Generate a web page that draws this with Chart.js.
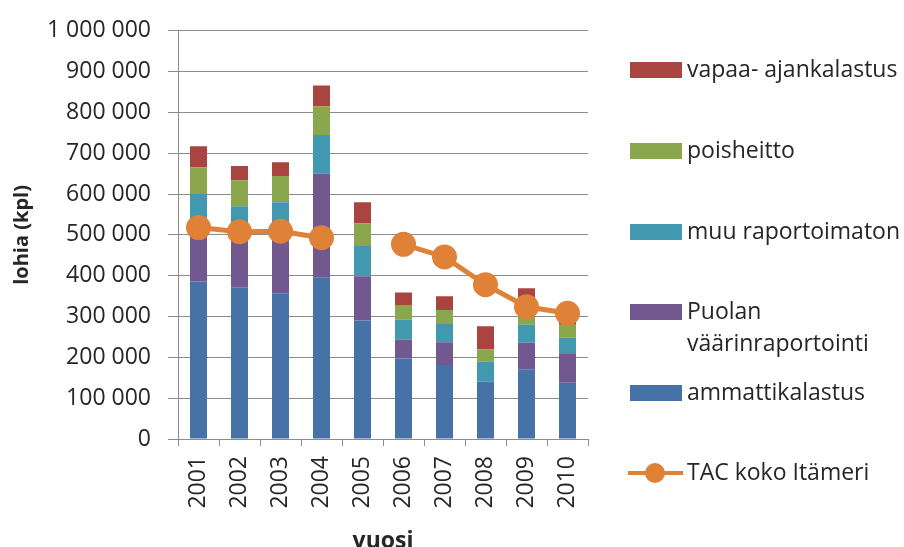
<!DOCTYPE html>
<html>
<head>
<meta charset="utf-8">
<script src="https://cdn.jsdelivr.net/npm/chart.js@4/dist/chart.umd.min.js"></script>
<style>
  body { margin: 0; background: #fff; }
  canvas { display: block; }
</style>
</head>
<body>
<canvas id="myChart" width="904" height="547"></canvas>
<script>
// vuodet ja saaliit (kpl)
var vuodet = ['2001', '2002', '2003', '2004', '2005', '2006', '2007', '2008', '2009', '2010'];
var ammattikalastus = [386000, 372000, 357000, 395000, 290000, 197000, 181000, 141000, 171000, 138000];
var puolanVaarinraportointi = [114000, 113000, 132000, 255000, 109000, 46000, 56000, 0, 65000, 70000];
var muuRaportoimaton = [100000, 85000, 91000, 95000, 74000, 49000, 45000, 48000, 44000, 40000];
var poisheitto = [66000, 64000, 64000, 70000, 55000, 36000, 34000, 31000, 55000, 32000];
var vapaaAjankalastus = [51000, 35000, 34000, 51000, 52000, 31000, 34000, 56000, 34000, 20000];
var tacKokoItameri = [518000, 508000, 509000, 493000, null, 477000, 446000, 378000, 324000, 308000];

var fontti = '"Open Sans", Lato, sans-serif';
var tekstinVari = '#262626';
var viivanVari = '#8c8c8c';

// oma selite oikealle puolelle
var selitePlugin = {
    id: 'omaSelite',
    afterDraw: function (chart) {
        var c = chart.ctx;
        var rivit = [
            { ds: 4, y: 70 },
            { ds: 3, y: 151 },
            { ds: 2, y: 232 },
            { ds: 1, y: 312 },
            { ds: 0, y: 393 },
            { ds: 5, y: 473 }
        ];
        c.save();
        c.font = '23px ' + fontti;
        c.textBaseline = 'middle';
        rivit.forEach(function (r) {
            var ds = chart.data.datasets[r.ds];
            if (ds.type === 'line') {
                c.strokeStyle = ds.borderColor;
                c.lineWidth = 4;
                c.beginPath();
                c.moveTo(628, r.y);
                c.lineTo(683, r.y);
                c.stroke();
                c.fillStyle = ds.pointBackgroundColor;
                c.beginPath();
                c.arc(655, r.y, 10, 0, Math.PI * 2);
                c.fill();
            } else {
                c.fillStyle = ds.backgroundColor;
                c.fillRect(630, r.y - 8, 52, 16);
            }
            c.fillStyle = tekstinVari;
            var teksti = ds.label;
            // pitkä nimi kahdelle riville
            if (c.measureText(teksti).width > 230) {
                var osat = teksti.split(' ');
                c.fillText(osat[0], 687, r.y);
                c.fillText(osat.slice(1).join(' '), 687, r.y + 32);
            } else {
                c.fillText(teksti, 687, r.y);
            }
        });
        c.restore();
    }
};

var ctx = document.getElementById('myChart').getContext('2d');

var myChart = new Chart(ctx, {
    type: 'bar',
    data: {
        labels: vuodet,
        datasets: [{
            label: 'ammattikalastus',
            data: ammattikalastus,
            backgroundColor: '#4672a8',
            order: 1
        }, {
            label: 'Puolan väärinraportointi',
            data: puolanVaarinraportointi,
            backgroundColor: '#71588f',
            order: 1
        }, {
            label: 'muu raportoimaton',
            data: muuRaportoimaton,
            backgroundColor: '#4198af',
            order: 1
        }, {
            label: 'poisheitto',
            data: poisheitto,
            backgroundColor: '#8aa74d',
            order: 1
        }, {
            label: 'vapaa- ajankalastus',
            data: vapaaAjankalastus,
            backgroundColor: '#a94441',
            order: 1
        }, {
            type: 'line',
            label: 'TAC koko Itämeri',
            data: tacKokoItameri,
            borderColor: '#df8136',
            backgroundColor: '#df8136',
            pointBackgroundColor: '#df8136',
            pointBorderColor: '#df8136',
            borderWidth: 5,
            pointRadius: 10,
            spanGaps: false,
            stack: 'tac',
            order: 0
        }]
    },
    options: {
        responsive: false,
        devicePixelRatio: 1,
        animation: false,
        layout: {
            padding: { top: 20, right: 316, bottom: 0, left: 0 }
        },
        datasets: {
            bar: {
                barPercentage: 0.415,
                categoryPercentage: 1
            }
        },
        plugins: {
            legend: { display: false },
            tooltip: { enabled: false }
        },
        scales: {
            x: {
                stacked: true,
                afterFit: function (s) { s.height = 108; },
                grid: {
                    offset: true,
                    drawOnChartArea: false,
                    tickLength: 7,
                    color: viivanVari
                },
                border: { color: viivanVari },
                ticks: {
                    minRotation: 90,
                    maxRotation: 90,
                    padding: 10,
                    color: tekstinVari,
                    font: { family: fontti, size: 23 }
                },
                title: {
                    display: true,
                    text: 'vuosi',
                    color: tekstinVari,
                    padding: { top: 0, bottom: -6 },
                    font: { family: fontti, size: 23, weight: 'bold', lineHeight: 1 }
                }
            },
            y: {
                stacked: true,
                min: 0,
                max: 1000000,
                afterFit: function (s) { s.width = 178; },
                grid: {
                    color: viivanVari,
                    tickLength: 10
                },
                border: { color: viivanVari },
                ticks: {
                    stepSize: 100000,
                    padding: 17,
                    color: tekstinVari,
                    font: { family: fontti, size: 23 },
                    callback: function (v) {
                        return String(v).replace(/\B(?=(\d{3})+(?!\d))/g, ' ');
                    }
                },
                title: {
                    display: true,
                    text: 'lohia (kpl)',
                    color: tekstinVari,
                    padding: { top: 10, bottom: 0 },
                    font: { family: fontti, size: 20, weight: 'bold' }
                }
            }
        }
    },
    plugins: [selitePlugin]
});
</script>
</body>
</html>
